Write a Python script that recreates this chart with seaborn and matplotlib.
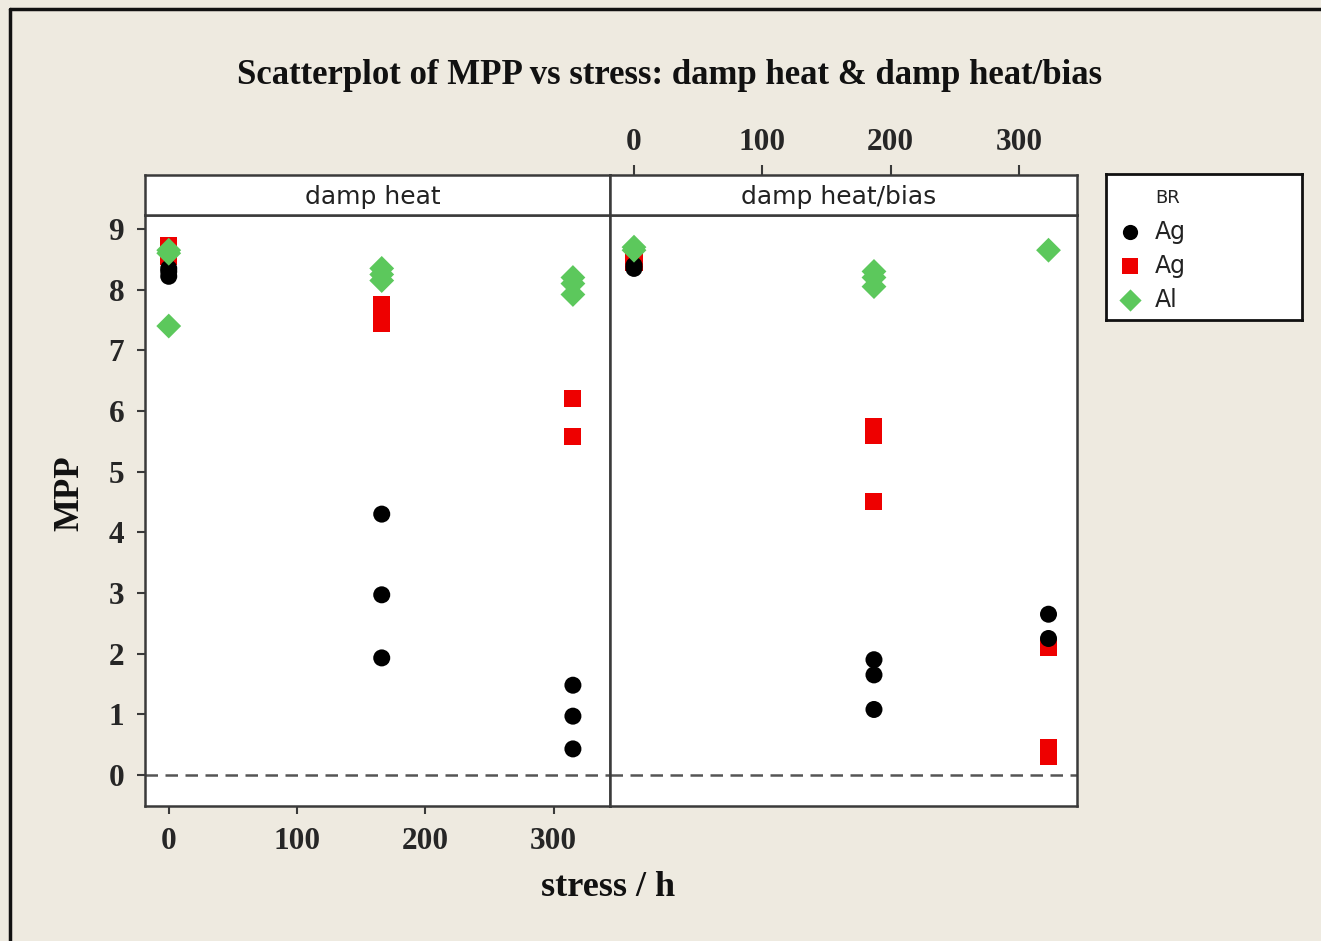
import matplotlib
matplotlib.use("Agg")
import matplotlib.pyplot as plt
import seaborn as sns
import pandas as pd
from matplotlib.lines import Line2D

# ---------------- data ----------------
panels = ["damp heat", "damp heat/bias"]
groups = ["Ag (1)", "Ag (2)", "Al"]
legend_labels = ["Ag", "Ag", "Al"]
group_colors = ["#000000", "#EE0000", "#5CC85C"]
group_markers = ["o", "s", "D"]

# damp heat
dh_ag1_x = [0, 0, 0, 166, 166, 166, 315, 315, 315]
dh_ag1_y = [8.22, 8.30, 8.35, 4.30, 2.97, 1.93, 1.48, 0.97, 0.43]
dh_ag2_x = [0, 0, 0, 166, 166, 166, 315, 315]
dh_ag2_y = [8.55, 8.65, 8.72, 7.75, 7.60, 7.45, 6.20, 5.58]
dh_al_x = [0, 0, 0, 166, 166, 166, 315, 315, 315]
dh_al_y = [8.60, 8.65, 7.40, 8.35, 8.25, 8.15, 8.20, 8.10, 7.92]

# damp heat/bias
dhb_ag1_x = [0, 0, 187, 187, 187, 323, 323]
dhb_ag1_y = [8.35, 8.40, 1.90, 1.65, 1.08, 2.65, 2.25]
dhb_ag2_x = [0, 0, 187, 187, 187, 323, 323, 323]
dhb_ag2_y = [8.45, 8.50, 5.75, 5.60, 4.50, 2.10, 0.45, 0.30]
dhb_al_x = [0, 0, 187, 187, 187, 323]
dhb_al_y = [8.65, 8.70, 8.30, 8.20, 8.05, 8.65]

x_ticks = [0, 100, 200, 300]
y_ticks = list(range(0, 10))

panel_data = {
    "damp heat": [(dh_ag2_x, dh_ag2_y, groups[1]), (dh_ag1_x, dh_ag1_y, groups[0]),
                  (dh_al_x, dh_al_y, groups[2])],
    "damp heat/bias": [(dhb_ag2_x, dhb_ag2_y, groups[1]), (dhb_ag1_x, dhb_ag1_y, groups[0]),
                       (dhb_al_x, dhb_al_y, groups[2])],
}

frames = []
for p in panels:
    for xs, ys, g in panel_data[p]:
        frames.append(pd.DataFrame({"panel": p, "stress": xs, "MPP": ys, "BR": g}))
df = pd.concat(frames, ignore_index=True)

# ---------------- figure ----------------
W, H = 1321, 941
BG = "#EEEAE0"
sns.set_style("white")
plt.rcParams["font.family"] = ["DejaVu Sans"]
SERIF = ["Liberation Serif", "DejaVu Serif"]

fig = plt.figure(figsize=(W / 100, H / 100), dpi=100)
fig.patch.set_facecolor(BG)

def fx(px):
    return px / W

def fy(py):
    return 1 - py / H

# outer frame (top and left edges visible)
fig.add_artist(Line2D([fx(10), fx(10)], [fy(9), -0.1], color="#111111", lw=2.5,
                      transform=fig.transFigure))
fig.add_artist(Line2D([fx(10), 1.1], [fy(9), fy(9)], color="#111111", lw=2.5,
                      transform=fig.transFigure))

palette = dict(zip(groups, group_colors))
markers = dict(zip(groups, group_markers))
sizes_map = {groups[0]: 150, groups[1]: 150, groups[2]: 160}

panel_px = {"damp heat": (145, 610), "damp heat/bias": (610, 1077)}
xlims = {"damp heat": (-18.5, 343.9), "damp heat/bias": (-18.7, 345.2)}
top_px, bot_px = 215, 806
strip_top = 175
ylim = ((775 - 806) / 60.67, (775 - 215) / 60.67)

tick_font = dict(family=SERIF, weight="bold", size=22.5)
edge_col = "#3a3a3a"

for i, p in enumerate(panels):
    x0, x1 = panel_px[p]
    ax = fig.add_axes([fx(x0), fy(bot_px), (x1 - x0) / W, (bot_px - top_px) / H])
    ax.set_facecolor("white")
    sub = df[df["panel"] == p]
    for g in [groups[1], groups[0], groups[2]]:
        s = sub[sub["BR"] == g]
        sns.scatterplot(data=s, x="stress", y="MPP", color=palette[g], marker=markers[g],
                        s=sizes_map[g], linewidth=0, edgecolor="none", ax=ax, legend=False,
                        zorder=3)
    ax.axhline(0, color="#555555", lw=1.8, ls=(0, (5, 3)), zorder=2)
    ax.set_xlim(*xlims[p])
    ax.set_ylim(*ylim)
    ax.set_xlabel("")
    ax.set_ylabel("")
    for sp in ax.spines.values():
        sp.set_color(edge_col)
        sp.set_linewidth(1.8)
    if i == 0:
        ax.set_yticks(y_ticks)
        ax.set_yticklabels([str(v) for v in y_ticks], fontdict=tick_font)
        ax.set_xticks(x_ticks)
        ax.set_xticklabels([str(v) for v in x_ticks], fontdict=tick_font)
        ax.tick_params(axis="both", direction="out", length=6, width=1.5, color=edge_col,
                       left=True, bottom=True)
        ax.tick_params(axis="x", pad=9)
        ax.tick_params(axis="y", pad=9)
    else:
        ax.set_yticks([])
        ax.set_xticks([])

    # strip
    sax = fig.add_axes([fx(x0), fy(top_px), (x1 - x0) / W, (top_px - strip_top) / H])
    sax.set_facecolor("white")
    sax.set_xlim(*xlims[p])
    sax.set_ylim(0, 1)
    sax.set_yticks([])
    for sp in sax.spines.values():
        sp.set_color(edge_col)
        sp.set_linewidth(1.8)
    sax.text(0.49, 0.45, p, transform=sax.transAxes, ha="center", va="center",
             fontsize=18, color="#222222")
    if i == 1:
        sax.xaxis.set_ticks_position("top")
        sax.set_xticks(x_ticks)
        sax.set_xticklabels([str(v) for v in x_ticks], fontdict=tick_font)
        sax.tick_params(axis="x", direction="out", length=7, width=1.5, color=edge_col,
                        pad=6, top=True, bottom=False)
    else:
        sax.set_xticks([])

# titles and axis labels
fig.text(fx(670), fy(76), "Scatterplot of MPP vs stress: damp heat & damp heat/bias",
         ha="center", va="center", family=SERIF, weight="bold", fontsize=25, color="#111111")
fig.text(fx(70), fy(493), "MPP", rotation=90, ha="center", va="center",
         family=SERIF, weight="bold", fontsize=25, color="#111111")
fig.text(fx(608), fy(887), "stress / h", ha="center", va="center",
         family=SERIF, weight="bold", fontsize=26, color="#111111")

# legend box
lx0, lx1, ly0, ly1 = 1106, 1302, 174, 320
lax = fig.add_axes([fx(lx0), fy(ly1), (lx1 - lx0) / W, (ly1 - ly0) / H])
lax.set_facecolor("white")
lax.set_xlim(0, lx1 - lx0)
lax.set_ylim(ly1 - ly0, 0)
lax.set_xticks([])
lax.set_yticks([])
for sp in lax.spines.values():
    sp.set_color("#111111")
    sp.set_linewidth(2)
lax.text(49, 24, "BR", ha="left", va="center", fontsize=13, color="#222222")
for k, (g, lab) in enumerate(zip(groups, legend_labels)):
    yy = 58 + 34 * k
    lax.scatter([24], [yy], color=palette[g], marker=markers[g], s=sizes_map[g] * 0.8,
                linewidth=0)
    lax.text(49, yy, lab, ha="left", va="center", fontsize=17, color="#222222")

fig.savefig("out.png", dpi=100, facecolor=BG)
